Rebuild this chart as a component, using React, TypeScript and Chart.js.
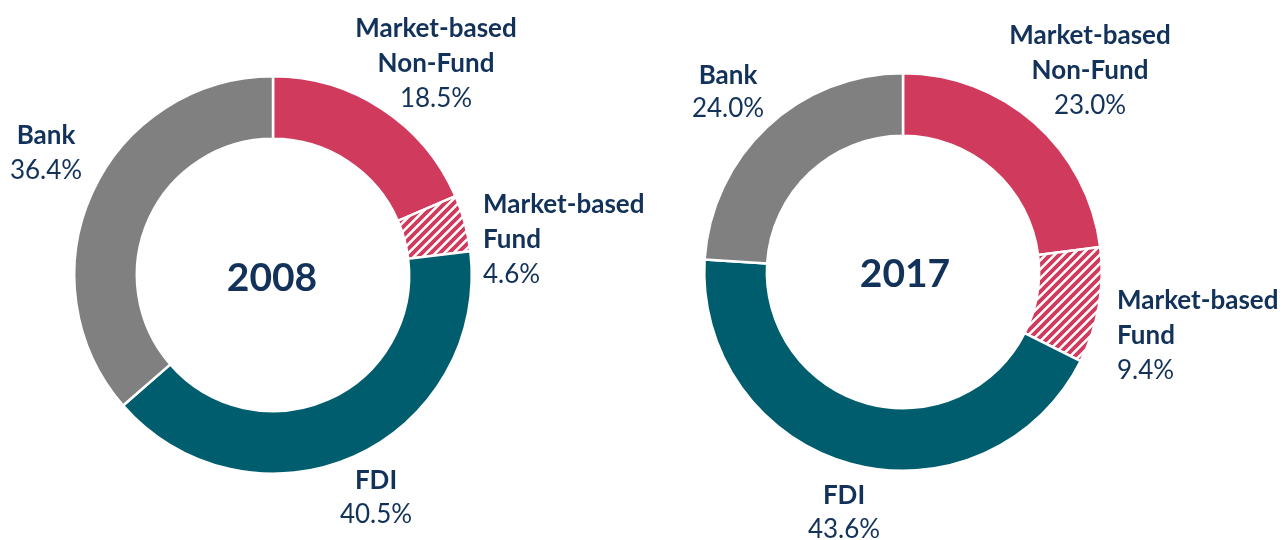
import React, { useEffect, useRef } from "react";
import { Chart, registerables } from "chart.js";

Chart.register(...registerables);

const categories = ["Market-based Non-Fund", "Market-based Fund", "FDI", "Bank"];
const labelLines = [["Market-based", "Non-Fund"], ["Market-based", "Fund"], ["FDI"], ["Bank"]];
const years = ["2008", "2017"];
const values2008 = [18.5, 4.6, 40.5, 36.4];
const values2017 = [23.0, 9.4, 43.6, 24.0];

const RED = "#D03A5C";
const TEAL = "#005D6E";
const GRAY = "#808080";
const NAVY = "#12325A";
const FONT = "Lato, 'Open Sans', sans-serif";

function makeHatch(): CanvasPattern | string {
  const p = 9;
  const c = document.createElement("canvas");
  c.width = p;
  c.height = p;
  const ctx = c.getContext("2d");
  if (!ctx) return RED;
  ctx.fillStyle = "#ffffff";
  ctx.fillRect(0, 0, p, p);
  ctx.strokeStyle = RED;
  ctx.lineWidth = 3.8;
  ctx.lineCap = "square";
  ctx.beginPath();
  ctx.moveTo(0, p);
  ctx.lineTo(p, 0);
  ctx.moveTo(-p / 2, p / 2);
  ctx.lineTo(p / 2, -p / 2);
  ctx.moveTo(p / 2, (3 * p) / 2);
  ctx.lineTo((3 * p) / 2, p / 2);
  ctx.stroke();
  const pat = ctx.createPattern(c, "repeat");
  return pat || RED;
}

type DonutProps = {
  values: number[];
  left: number;
  width: number;
  padTop: number;
  padBottom: number;
};

function Donut({ values, left, width, padTop, padBottom }: DonutProps) {
  const ref = useRef<HTMLCanvasElement | null>(null);
  useEffect(() => {
    if (!ref.current) return;
    const chart = new Chart(ref.current, {
      type: "doughnut",
      data: {
        labels: categories,
        datasets: [
          {
            data: values,
            backgroundColor: [RED, makeHatch() as any, TEAL, GRAY],
            borderColor: "#ffffff",
            borderWidth: 2.5,
          },
        ],
      },
      options: {
        responsive: false,
        animation: false,
        cutout: "68.5%",
        layout: { padding: { top: padTop, bottom: padBottom, left: 0, right: 0 } },
        plugins: { legend: { display: false }, tooltip: { enabled: false } },
      },
    });
    return () => chart.destroy();
  }, [values, padTop, padBottom]);
  return (
    <canvas
      ref={ref}
      width={width}
      height={540}
      style={{ position: "absolute", left, top: 0, width, height: 540 }}
    />
  );
}

type LabelProps = {
  idx: number;
  value: number;
  x: number;
  top: number;
  align: "center" | "left";
  lh?: number;
};

function Label({ idx, value, x, top, align, lh = 35 }: LabelProps) {
  const style: React.CSSProperties = {
    position: "absolute",
    top,
    left: x,
    transform: align === "center" ? "translateX(-50%)" : undefined,
    textAlign: align,
    whiteSpace: "nowrap",
    fontFamily: FONT,
    fontSize: 26,
    lineHeight: lh + "px",
    color: NAVY,
  };
  return (
    <div style={style}>
      {labelLines[idx].map((l, i) => (
        <div key={i} style={{ fontWeight: 700 }}>
          {l}
        </div>
      ))}
      <div style={{ fontWeight: 400 }}>{value.toFixed(1) + "%"}</div>
    </div>
  );
}

function Year({ text, x, y }: { text: string; x: number; y: number }) {
  return (
    <div
      style={{
        position: "absolute",
        left: x,
        top: y,
        transform: "translate(-50%, -50%)",
        fontFamily: FONT,
        fontWeight: 700,
        fontSize: 39,
        color: NAVY,
        whiteSpace: "nowrap",
      }}
    >
      {text}
    </div>
  );
}

export default function App() {
  return (
    <div
      style={{
        position: "fixed",
        left: 0,
        top: 0,
        width: 1288,
        height: 540,
        background: "#ffffff",
        overflow: "hidden",
      }}
    >
      <Donut values={values2008} left={0} width={546} padTop={75} padBottom={65} />
      <Donut values={values2017} left={630} width={546} padTop={72} padBottom={68} />

      <Year text={years[0]} x={272} y={276} />
      <Year text={years[1]} x={905} y={272} />

      <Label idx={0} value={values2008[0]} x={436} top={10} align="center" />
      <Label idx={1} value={values2008[1]} x={483} top={186} align="left" />
      <Label idx={2} value={values2008[2]} x={376} top={462} align="center" lh={34} />
      <Label idx={3} value={values2008[3]} x={46} top={117} align="center" />

      <Label idx={0} value={values2017[0]} x={1090} top={17} align="center" />
      <Label idx={1} value={values2017[1]} x={1117} top={282} align="left" />
      <Label idx={2} value={values2017[2]} x={844} top={477} align="center" lh={34} />
      <Label idx={3} value={values2017[3]} x={728} top={58} align="center" lh={33} />
    </div>
  );
}
